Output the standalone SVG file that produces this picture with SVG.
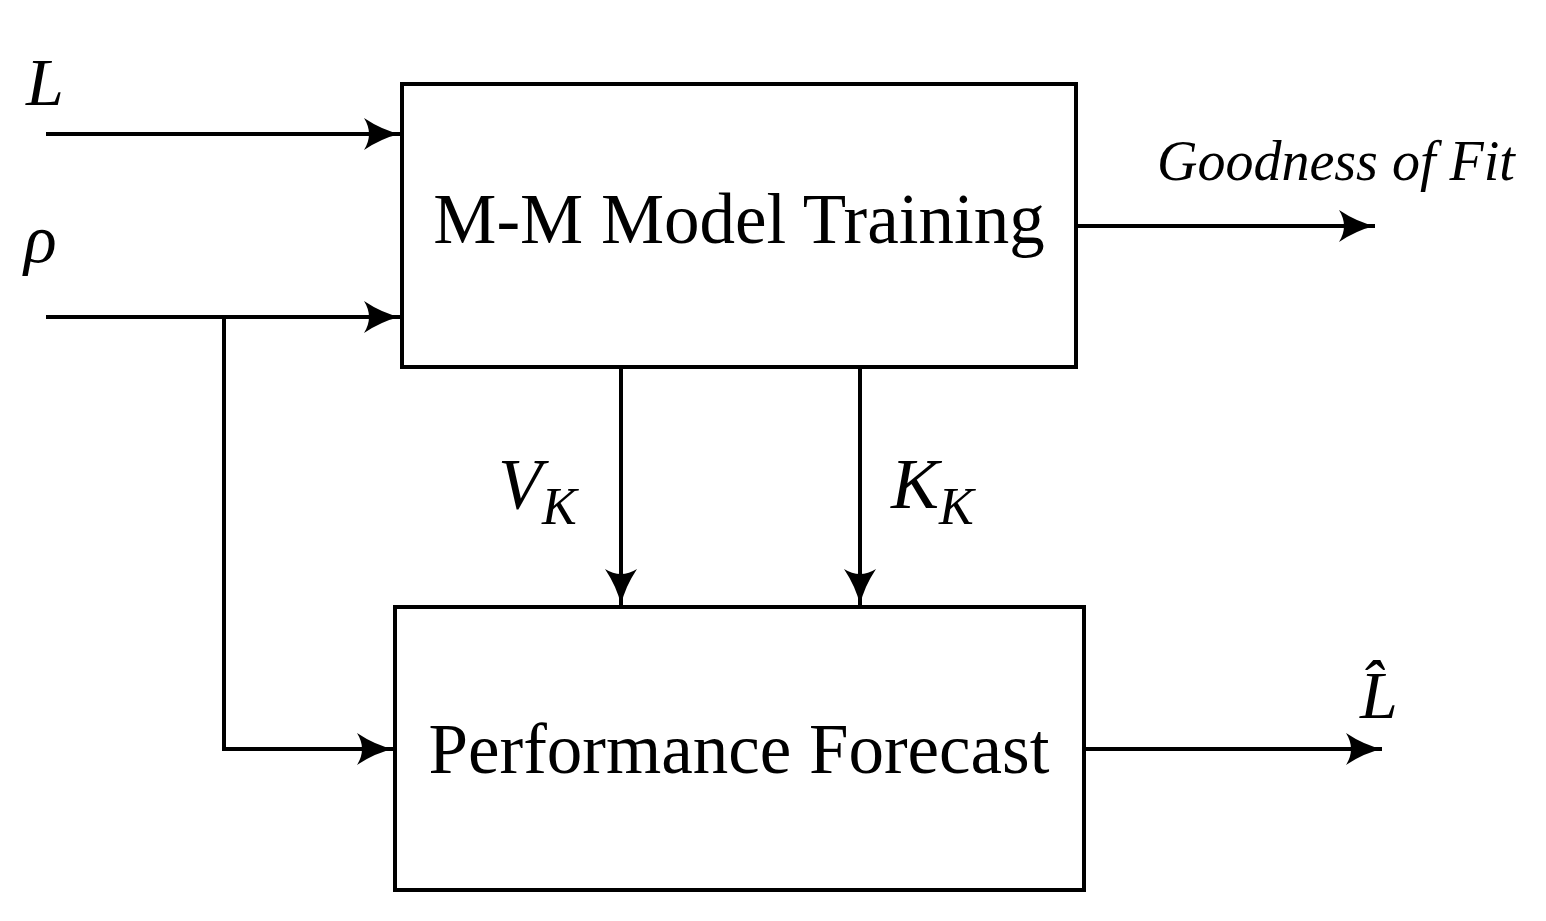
<svg xmlns="http://www.w3.org/2000/svg" width="1546" height="921" viewBox="0 0 1546 921">
<style>
.box{fill:#fff;stroke:#000;stroke-width:4}
.ln{fill:none;stroke:#000;stroke-width:4}
.t{font-family:"Liberation Serif",serif;fill:#000}
.i{font-style:italic}
</style>
<defs>
<marker id="ah" markerUnits="userSpaceOnUse" markerWidth="44" markerHeight="40" refX="38" refY="20" orient="auto">
<path d="M2,4 Q20,16 38,20 Q20,24 2,36 Q12,20 2,4 Z" fill="#000"/>
</marker>
</defs>
<rect width="1546" height="921" fill="#fff"/>
<g id="connectors">
<path class="ln" d="M46,134 H400" marker-end="url(#ah)"/>
<path class="ln" d="M46,317 H400" marker-end="url(#ah)"/>
<path class="ln" d="M224,317 V749 H393" marker-end="url(#ah)"/>
<path class="ln" d="M1076,226 H1375" marker-end="url(#ah)"/>
<path class="ln" d="M1084,749 H1382" marker-end="url(#ah)"/>
<path class="ln" d="M621,367 V605" marker-end="url(#ah)"/>
<path class="ln" d="M860,367 V605" marker-end="url(#ah)"/>
</g>
<g id="training">
<rect class="box" x="402" y="84" width="674" height="283"/>
<text class="t" x="739" y="243" font-size="71" text-anchor="middle">M-M Model Training</text>
</g>
<g id="forecast">
<rect class="box" x="395" y="607" width="689" height="283"/>
<text class="t" x="739" y="773" font-size="71" text-anchor="middle">Performance Forecast</text>
</g>
<g id="labels">
<text class="t i" x="26" y="105" font-size="68">L</text>
<text class="t i" x="24" y="262" font-size="68">ρ</text>
<text class="t i" x="498" y="508" font-size="72">V<tspan font-size="52" dy="16">K</tspan></text>
<text class="t i" x="891" y="508" font-size="72">K<tspan font-size="52" dy="16">K</tspan></text>
<text class="t i" x="1157" y="180" font-size="56">Goodness of Fit</text>
<text class="t i" x="1360" y="718" font-size="68">L̂</text>
</g>
</svg>
